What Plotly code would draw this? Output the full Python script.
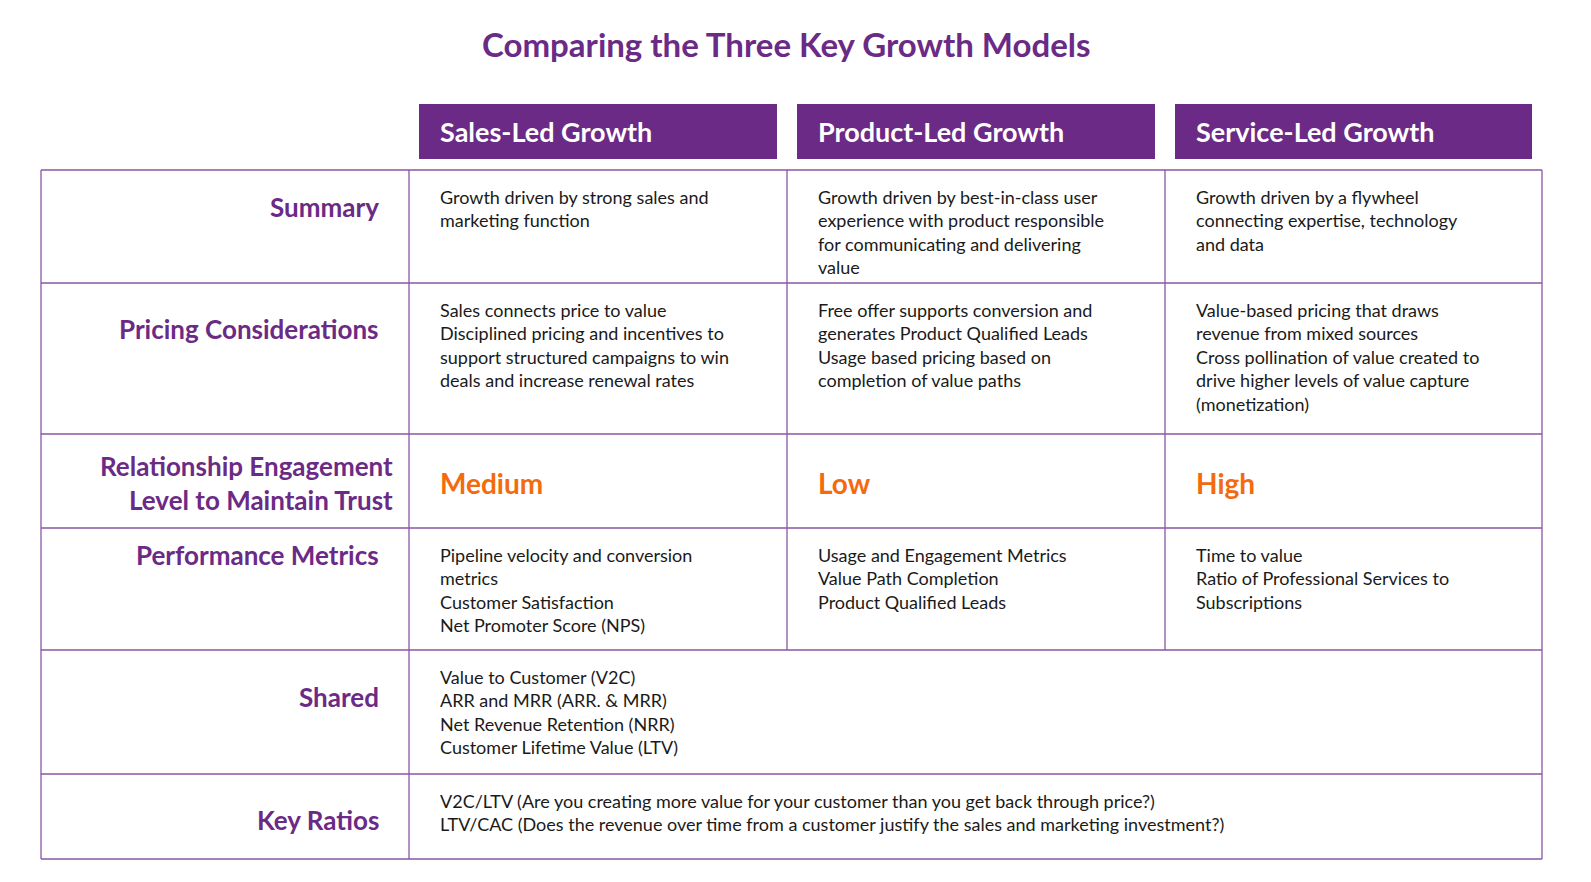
import plotly.graph_objects as go

title = "Comparing the Three Key Growth Models"
models = ["Sales-Led Growth", "Product-Led Growth", "Service-Led Growth"]
row_labels = ["Summary", "Pricing Considerations",
              "Relationship Engagement<br>Level to Maintain Trust",
              "Performance Metrics", "Shared", "Key Ratios"]
summary = [
    "Growth driven by strong sales and<br>marketing function",
    "Growth driven by best-in-class user<br>experience with product responsible<br>for communicating and delivering<br>value",
    "Growth driven by a flywheel<br>connecting expertise, technology<br>and data",
]
pricing = [
    "Sales connects price to value<br>Disciplined pricing and incentives to<br>support structured campaigns to win<br>deals and increase renewal rates",
    "Free offer supports conversion and<br>generates Product Qualified Leads<br>Usage based pricing based on<br>completion of value paths",
    "Value-based pricing that draws<br>revenue from mixed sources<br>Cross pollination of value created to<br>drive higher levels of value capture<br>(monetization)",
]
engagement = ["Medium", "Low", "High"]
metrics = [
    "Pipeline velocity and conversion<br>metrics<br>Customer Satisfaction<br>Net Promoter Score (NPS)",
    "Usage and Engagement Metrics<br>Value Path Completion<br>Product Qualified Leads",
    "Time to value<br>Ratio of Professional Services to<br>Subscriptions",
]
shared = "Value to Customer (V2C)<br>ARR and MRR (ARR. & MRR)<br>Net Revenue Retention (NRR)<br>Customer Lifetime Value (LTV)"
key_ratios = "V2C/LTV (Are you creating more value for your customer than you get back through price?)<br>LTV/CAC (Does the revenue over time from a customer justify the sales and marketing investment?)"

# layout grid (pixel-like axis units)
W, H = 1591, 882
col_x = [33, 401, 779, 1157, 1534]
row_y = [162, 275, 426, 520, 642, 766, 851]
label_y = [199, 321, 475, 547, 689, 812]
purple = "#6B2A85"
line_c = "#8A56A3"
orange = "#F46A0E"
FONT = "Lato, 'Open Sans', sans-serif"

fig = go.Figure()
shapes, ann = [], []

# header boxes
for i, m in enumerate(models):
    x0 = col_x[i + 1] + 10
    x1 = col_x[i + 2] - 10
    shapes.append(dict(type="rect", x0=x0, x1=x1, y0=96, y1=151,
                       fillcolor=purple, line=dict(width=0), xref="x", yref="y"))
    ann.append(dict(x=x0 + 19, y=123, text=m, xanchor="left", yanchor="middle",
                    showarrow=False, font=dict(size=27, color="white", family=FONT, weight="bold")))

# table lines
lw = dict(color=line_c, width=1.3)
for y in row_y:
    shapes.append(dict(type="line", x0=col_x[0], x1=col_x[-1], y0=y, y1=y, line=lw, xref="x", yref="y"))
shapes.append(dict(type="line", x0=col_x[0], x1=col_x[0], y0=row_y[0], y1=row_y[-1], line=lw, xref="x", yref="y"))
shapes.append(dict(type="line", x0=col_x[-1], x1=col_x[-1], y0=row_y[0], y1=row_y[-1], line=lw, xref="x", yref="y"))
shapes.append(dict(type="line", x0=col_x[1], x1=col_x[1], y0=row_y[0], y1=row_y[-1], line=lw, xref="x", yref="y"))
for c in (2, 3):
    shapes.append(dict(type="line", x0=col_x[c], x1=col_x[c], y0=row_y[0], y1=row_y[4], line=lw, xref="x", yref="y"))

# row labels
for r, lab in enumerate(row_labels):
    xr = 387 if r == 2 else 373
    ann.append(dict(x=xr, y=label_y[r], text=lab, xanchor="right", yanchor="middle", align="right",
                    showarrow=False, font=dict(size=26, color=purple, family=FONT, weight="bold")))

body = dict(size=18, color="#1a1a1a", family=FONT)

def cell(x, y, text):
    ann.append(dict(x=x, y=y, text=text, xanchor="left", yanchor="top", align="left",
                    showarrow=False, font=body))

for i in range(3):
    x = col_x[i + 1] + 29
    cell(x, row_y[0] + 14, summary[i])
    cell(x, row_y[1] + 14, pricing[i])
    cell(x, row_y[3] + 14, metrics[i])
    ann.append(dict(x=x, y=475, text=engagement[i], xanchor="left", yanchor="middle",
                    showarrow=False, font=dict(size=28, color=orange, family=FONT, weight="bold")))
cell(col_x[1] + 29, row_y[4] + 14, shared)
cell(col_x[1] + 29, row_y[5] + 14, key_ratios)

ann.append(dict(x=778, y=36, text=title, xanchor="center", yanchor="middle", showarrow=False,
                font=dict(size=33, color=purple, family=FONT, weight="bold")))

fig.update_layout(
    width=W, height=H, margin=dict(l=0, r=0, t=0, b=0),
    paper_bgcolor="white", plot_bgcolor="white",
    xaxis=dict(range=[0, W], visible=False, fixedrange=True),
    yaxis=dict(range=[H, 0], visible=False, fixedrange=True),
    shapes=shapes, annotations=ann, showlegend=False,
)
fig.write_html("out.html")
